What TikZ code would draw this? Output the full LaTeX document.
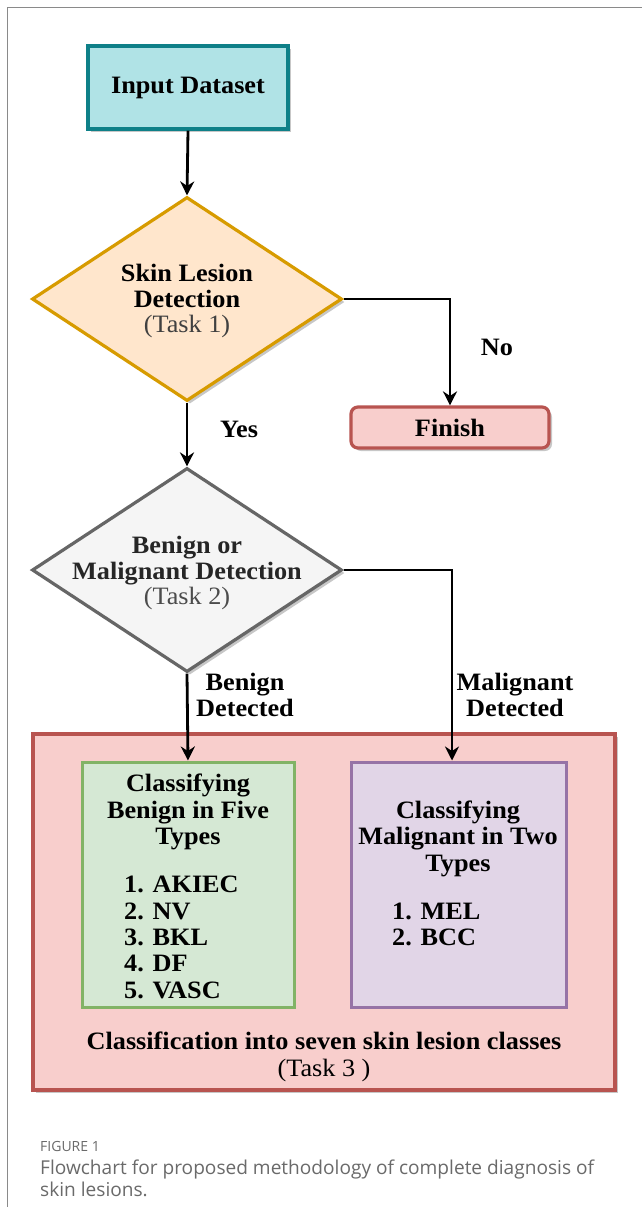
\documentclass[tikz,border=0pt]{standalone}
\usepackage{fontspec}
\setmainfont{Liberation Serif}[FakeStretch=1.05]
\newfontfamily\capfont{Open Sans}
\usetikzlibrary{shapes.geometric,arrows.meta,shadows}
\definecolor{tealS}{HTML}{0E8088}
\definecolor{tealF}{HTML}{B0E3E6}
\definecolor{orS}{HTML}{D79B00}
\definecolor{orF}{HTML}{FFE6CC}
\definecolor{grS}{HTML}{666666}
\definecolor{grF}{HTML}{F5F5F5}
\definecolor{rdS}{HTML}{B85450}
\definecolor{rdF}{HTML}{F8CECC}
\definecolor{gnS}{HTML}{82B366}
\definecolor{gnF}{HTML}{D5E8D4}
\definecolor{puS}{HTML}{9673A6}
\definecolor{puF}{HTML}{E1D5E7}
\definecolor{frameC}{HTML}{8A8A8A}
\definecolor{capC}{HTML}{6A6A6A}
\begin{document}
\begin{tikzpicture}[x=1pt,y=-1pt,
  every node/.style={font=\fontsize{25}{26.4}\selectfont\bfseries, inner sep=0pt},
  shad/.style={drop shadow={shadow xshift=3pt, shadow yshift=-3pt, opacity=0.22, fill=black}},
  boxR/.style={draw, line width=3.2pt, shad},
  dia/.style={diamond, draw, line width=3.2pt, minimum width=310pt, minimum height=204pt, aspect=1.52, shad},
  conn/.style={draw=black, line width=2.8pt, -{Stealth[length=14pt,width=14pt]}},
  lbl/.style={align=center}
]
\useasboundingbox (0,0) rectangle (642,1207);
\fill[white] (0,0) rectangle (642,1207);
% frame
\draw[frameC, line width=1.5pt] (642,7.5) -- (7.5,7.5) -- (7.5,1207);

% nodes
\node[boxR, draw=tealS, fill=tealF, minimum width=200pt, minimum height=83pt] (inp) at (188,87.5) {};
\node (inpt) at (188,88) {Input Dataset};

\node[dia, draw=orS, fill=orF] (d1) at (187,299) {};
\node[lbl] (d1t) at (187,301) {Skin Lesion\\Detection\\[-1pt]{\mdseries\color{black!75}(Task 1)}};

\node[boxR, draw=rdS, fill=rdF, rounded corners=7pt, minimum width=198pt, minimum height=41pt] (fin) at (450,427.5) {};
\node (fint) at (450,428) {Finish};

\node[dia, draw=grS, fill=grF] (d2) at (187,570) {};
\node[lbl, text=black!85] (d2t) at (187,573) {Benign or\\Malignant Detection\\[-1pt]{\mdseries\color{black!70}(Task 2)}};

\node[boxR, draw=rdS, fill=rdF, line width=3.5pt, minimum width=582pt, minimum height=356pt] (big) at (324,912) {};

\node[draw=gnS, fill=gnF, line width=3pt, minimum width=212pt, minimum height=245pt] (gb) at (188,884.5) {};
\node[lbl] (gbt) at (188,812) {Classifying\\Benign in Five\\Types};
\node[align=left, anchor=west] (gbl) at (124,937.5) {1. AKIEC\\2. NV\\3. BKL\\4. DF\\5. VASC};

\node[draw=puS, fill=puF, line width=3pt, minimum width=215pt, minimum height=245pt] (pb) at (458.5,884.5) {};
\node[lbl] (pbt) at (458,838.5) {Classifying\\Malignant in Two\\Types};
\node[align=left, anchor=west] (pbl) at (392,924.5) {1. MEL\\2. BCC};

\node[lbl] (bigt) at (324,1057) {Classification into seven skin lesion classes\\{\mdseries (Task 3 )}};

% labels
\node (no) at (497,347) {No};
\node (yes) at (239,429) {Yes};
\node[lbl] (bd) at (245,695) {Benign\\Detected};
\node[lbl] (md) at (515,695) {Malignant\\Detected};

% connectors
\draw[conn] (inp.south) -- (d1.north);
\draw[conn] (d1.east) -| (fin.north);
\draw[conn] (d1.south) -- (d2.north);
\draw[conn] (d2.south) -- (gb.north);
\draw[conn] (d2.east) -| ([xshift=-6.5pt]pb.north);

% caption
\node[anchor=base west, font=\capfont\fontsize{14}{16}\selectfont, text=capC] (cap1) at (40,1151) {FIGURE 1};
\node[anchor=base west, align=left, font=\capfont\fontsize{19.1}{22}\selectfont, text=capC] (cap2) at (40,1196) {Flowchart for proposed methodology of complete diagnosis of\\skin lesions.};
\end{tikzpicture}
\end{document}
